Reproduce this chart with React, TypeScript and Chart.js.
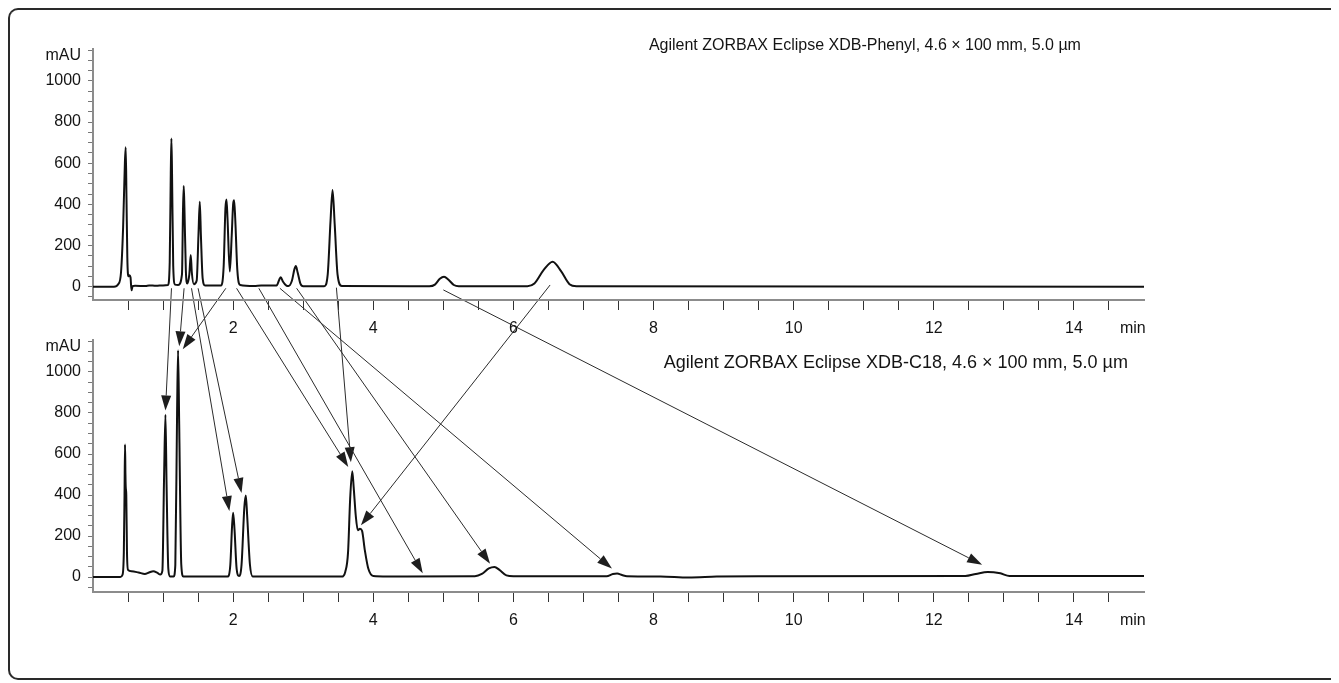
import React, { useEffect, useRef } from 'react';
import { Chart, registerables } from 'chart.js';

Chart.register(...registerables);

// ---------- data ----------
// Phenyl column trace: [time (min), signal (mAU)]
const PHENYL_TRACE: [number, number][] = [
  [0, 0], [0.3, 0], [0.36, 12], [0.4, 70], [0.43, 290], [0.455, 600], [0.467, 677],
  [0.478, 430], [0.49, 140], [0.505, 50], [0.52, 55], [0.535, 46], [0.55, -18],
  [0.565, 2], [0.6, 4], [0.75, 3], [0.8, 6], [0.9, 4], [1.0, 6], [1.07, 8],
  [1.095, 120], [1.11, 550], [1.119, 720], [1.128, 550], [1.145, 100], [1.17, 10],
  [1.215, 8], [1.27, 60], [1.285, 380], [1.295, 489], [1.305, 380], [1.325, 80],
  [1.345, 15], [1.375, 60], [1.395, 154], [1.41, 70], [1.44, 12], [1.48, 30],
  [1.505, 250], [1.524, 413], [1.54, 250], [1.565, 40], [1.6, 5], [1.83, 6],
  [1.865, 100], [1.89, 380], [1.905, 424], [1.92, 330], [1.952, 73], [1.98, 250],
  [2.0, 400], [2.014, 420], [2.03, 330], [2.06, 80], [2.1, 8], [2.3, 3], [2.4, 5],
  [2.62, 5], [2.66, 35], [2.68, 45], [2.71, 25], [2.76, 5], [2.79, 3], [2.84, 30],
  [2.875, 85], [2.895, 100], [2.92, 70], [2.96, 15], [3.0, 2], [3.3, 2], [3.35, 60],
  [3.39, 320], [3.419, 470], [3.45, 300], [3.49, 60], [3.55, 3], [4.8, 2], [4.88, 10],
  [4.95, 38], [5.01, 48], [5.07, 35], [5.15, 8], [5.22, 2], [6.2, 2], [6.3, 15],
  [6.43, 80], [6.56, 121], [6.68, 75], [6.8, 12], [6.9, 2], [15, 0],
];

// C18 column trace: [time (min), signal (mAU)]
const C18_TRACE: [number, number][] = [
  [0, 0], [0.39, 0], [0.42, 10], [0.44, 120], [0.45, 400], [0.457, 646], [0.463, 500],
  [0.467, 440], [0.475, 400], [0.485, 120], [0.5, 35], [0.55, 28], [0.65, 22],
  [0.74, 15], [0.8, 22], [0.86, 28], [0.92, 20], [0.96, 12], [0.99, 30], [1.015, 500],
  [1.034, 792], [1.05, 450], [1.075, 40], [1.1, 3], [1.15, 2], [1.175, 60], [1.2, 800],
  [1.214, 1106], [1.23, 750], [1.26, 60], [1.29, 2], [1.92, 2], [1.96, 60], [1.985, 250],
  [2.0, 314], [2.02, 230], [2.05, 40], [2.085, 5], [2.12, 60], [2.16, 340], [2.181, 398],
  [2.2, 300], [2.24, 60], [2.28, 3], [3.55, 2], [3.6, 25], [3.64, 120], [3.67, 380],
  [3.7, 516], [3.72, 440], [3.75, 300], [3.78, 228], [3.81, 235], [3.84, 225],
  [3.88, 130], [3.93, 40], [4.0, 5], [4.2, 3], [5.45, 4], [5.55, 15], [5.65, 42],
  [5.73, 49], [5.8, 35], [5.9, 8], [6.0, 4], [7.33, 4], [7.42, 15], [7.48, 17],
  [7.55, 10], [7.62, 4], [8.1, 3], [8.5, -2], [8.9, 2], [9.5, 4], [12.45, 5],
  [12.6, 15], [12.77, 25], [12.95, 18], [13.08, 5], [15, 5],
];

// Peak correspondence arrows: [time on Phenyl, mAU on Phenyl, time on C18, mAU on C18]
const PEAK_LINKS: [number, number, number, number][] = [
  [1.12, -8, 1.034, 812],
  [1.3, -8, 1.231, 1125],
  [1.896, -8, 1.281, 1111],
  [1.406, -8, 1.946, 322],
  [1.5, -8, 2.12, 410],
  [2.049, -8, 3.643, 537],
  [3.474, -5, 3.681, 560],
  [2.367, -8, 4.706, 18],
  [2.667, -8, 7.406, 41],
  [2.906, -8, 5.667, 65],
  [5.0, -16, 12.69, 60],
  [6.524, 8, 3.824, 252],
];

const X_TICKS = [0.5, 1, 1.5, 2, 2.5, 3, 3.5, 4, 4.5, 5, 5.5, 6, 6.5, 7, 7.5, 8, 8.5, 9, 9.5,
  10, 10.5, 11, 11.5, 12, 12.5, 13, 13.5, 14, 14.5];
const X_TICK_LABELS = [2, 4, 6, 8, 10, 12, 14];
const X_UNIT = 'min';
const Y_TICKS = [-50, 0, 50, 100, 150, 200, 250, 300, 350, 400, 450, 500, 550, 600, 650, 700,
  750, 800, 850, 900, 950, 1000, 1050, 1100, 1150];
const Y_TICK_LABELS = [0, 200, 400, 600, 800, 1000];
const Y_UNIT = 'mAU';

const TITLE_PHENYL = 'Agilent ZORBAX Eclipse XDB-Phenyl, 4.6 \u00d7 100 mm, 5.0 \u00b5m';
const TITLE_C18 = 'Agilent ZORBAX Eclipse XDB-C18, 4.6 \u00d7 100 mm, 5.0 \u00b5m';

// ---------- styling ----------
const FONT = '"Liberation Sans", Arial, sans-serif';
const TEXT = '#141414';
const AXIS_GREY = '#8c8c8c';
const X_UNIT_AT = 14.84;
const Y_UNIT_AT = 1125;
const CANVAS_W = 1178;
const CANVAS_H = 630;

const titlePlugin = (text: string, size: number, anchorT: number, dy: number) => ({
  id: 'panelTitle',
  afterDraw(chart: any) {
    const { ctx, chartArea, scales } = chart;
    ctx.save();
    ctx.font = `${size}px ${FONT}`;
    ctx.fillStyle = TEXT;
    ctx.textAlign = 'right';
    ctx.textBaseline = 'middle';
    ctx.fillText(text, scales.x.getPixelForValue(anchorT), chartArea.top + dy);
    ctx.restore();
  },
});

function makeScales(yMin: number, yMax: number) {
  return {
    x: {
      type: 'linear',
      min: 0,
      max: 15,
      afterBuildTicks: (s: any) => {
        const t = X_TICKS.map((v) => ({ value: v }));
        t.push({ value: X_UNIT_AT });
        s.ticks = t;
      },
      afterFit: (s: any) => {
        s.height = 35;
      },
      grid: {
        drawOnChartArea: false,
        drawTicks: true,
        tickLength: 10,
        tickWidth: 1,
        tickColor: (c: any) => (c.tick && c.tick.value === X_UNIT_AT ? 'rgba(0,0,0,0)' : '#333'),
      },
      border: { display: true, color: AXIS_GREY, width: 2 },
      ticks: {
        autoSkip: false,
        maxRotation: 0,
        padding: 9,
        color: TEXT,
        font: { family: FONT, size: 16 },
        callback: (v: number) => (v === X_UNIT_AT ? X_UNIT : X_TICK_LABELS.includes(v) ? String(v) : ''),
      },
    },
    y: {
      type: 'linear',
      min: yMin,
      max: yMax,
      afterBuildTicks: (s: any) => {
        const t = Y_TICKS.map((v) => ({ value: v }));
        t.splice(t.length - 1, 0, { value: Y_UNIT_AT });
        s.ticks = t;
      },
      afterFit: (s: any) => {
        s.width = 81;
      },
      grid: {
        drawOnChartArea: false,
        drawTicks: true,
        tickLength: 5,
        tickWidth: 1,
        tickColor: (c: any) => (c.tick && c.tick.value === Y_UNIT_AT ? 'rgba(0,0,0,0)' : '#777'),
      },
      border: { display: true, color: AXIS_GREY, width: 2 },
      ticks: {
        autoSkip: false,
        padding: 7,
        color: TEXT,
        font: { family: FONT, size: 16 },
        callback: (v: number) => (v === Y_UNIT_AT ? Y_UNIT : Y_TICK_LABELS.includes(v) ? String(v) : ''),
      },
    },
  };
}

function traceDataset(trace: [number, number][]) {
  return {
    data: trace.map(([x, y]) => ({ x, y })),
    borderColor: '#111',
    borderWidth: 2,
    pointRadius: 0,
    fill: false,
    cubicInterpolationMode: 'monotone',
  };
}

export default function App() {
  const topRef = useRef<HTMLCanvasElement>(null);
  const botRef = useRef<HTMLCanvasElement>(null);

  useEffect(() => {
    document.documentElement.style.overflow = 'hidden';
    const root = document.getElementById('root');
    if (root) {
      root.style.width = '1331px';
      root.style.height = '672px';
    }
    if (!topRef.current || !botRef.current) return;

    const topChart = new Chart(topRef.current, {
      type: 'line',
      data: { datasets: [traceDataset(PHENYL_TRACE) as any] },
      options: {
        responsive: false,
        animation: false,
        events: [],
        layout: { padding: { left: 0, right: 46, top: 29, bottom: 315 } },
        plugins: { legend: { display: false }, tooltip: { enabled: false } },
        scales: makeScales(-65, 1155) as any,
      },
      plugins: [titlePlugin(TITLE_PHENYL, 16, 14.1, -3)],
    });

    const arrowPlugin = {
      id: 'peakLinks',
      afterDraw(chart: any) {
        const { ctx } = chart;
        const tx = topChart.scales.x;
        const ty = topChart.scales.y;
        const bx = chart.scales.x;
        const by = chart.scales.y;
        ctx.save();
        ctx.strokeStyle = '#2b2b2b';
        ctx.fillStyle = '#1e1e1e';
        ctx.lineWidth = 1;
        for (const [t1, v1, t2, v2] of PEAK_LINKS) {
          const x1 = tx.getPixelForValue(t1);
          const y1 = ty.getPixelForValue(v1);
          const x2 = bx.getPixelForValue(t2);
          const y2 = by.getPixelForValue(v2);
          const ang = Math.atan2(y2 - y1, x2 - x1);
          const len = 15;
          const half = 5;
          const bxp = x2 - len * Math.cos(ang);
          const byp = y2 - len * Math.sin(ang);
          ctx.beginPath();
          ctx.moveTo(x1, y1);
          ctx.lineTo(bxp, byp);
          ctx.stroke();
          ctx.beginPath();
          ctx.moveTo(x2, y2);
          ctx.lineTo(bxp + half * Math.sin(ang), byp - half * Math.cos(ang));
          ctx.lineTo(bxp - half * Math.sin(ang), byp + half * Math.cos(ang));
          ctx.closePath();
          ctx.fill();
        }
        ctx.restore();
      },
    };

    const botChart = new Chart(botRef.current, {
      type: 'line',
      data: { datasets: [traceDataset(C18_TRACE) as any] },
      options: {
        responsive: false,
        animation: false,
        events: [],
        layout: { padding: { left: 0, right: 46, top: 320, bottom: 23 } },
        plugins: { legend: { display: false }, tooltip: { enabled: false } },
        scales: makeScales(-73, 1156) as any,
      },
      plugins: [titlePlugin(TITLE_C18, 18, 14.77, 23), arrowPlugin],
    });

    return () => {
      botChart.destroy();
      topChart.destroy();
    };
  }, []);

  const canvasStyle: React.CSSProperties = {
    position: 'absolute',
    left: 4,
    top: 12,
    width: CANVAS_W,
    height: CANVAS_H,
  };

  return (
    <div style={{ position: 'relative', width: 1331, height: 672 }}>
      <div
        style={{
          position: 'absolute',
          left: 0,
          top: 0,
          width: 1331,
          height: 672,
          boxSizing: 'border-box',
          borderTop: '2px solid #2a2a2a',
          borderLeft: '2px solid #2a2a2a',
          borderBottom: '2px solid #2a2a2a',
          borderRight: 'none',
          borderRadius: '10px 0 0 10px',
        }}
      />
      <canvas ref={botRef} width={CANVAS_W} height={CANVAS_H} style={canvasStyle} />
      <canvas ref={topRef} width={CANVAS_W} height={CANVAS_H} style={canvasStyle} />
    </div>
  );
}
